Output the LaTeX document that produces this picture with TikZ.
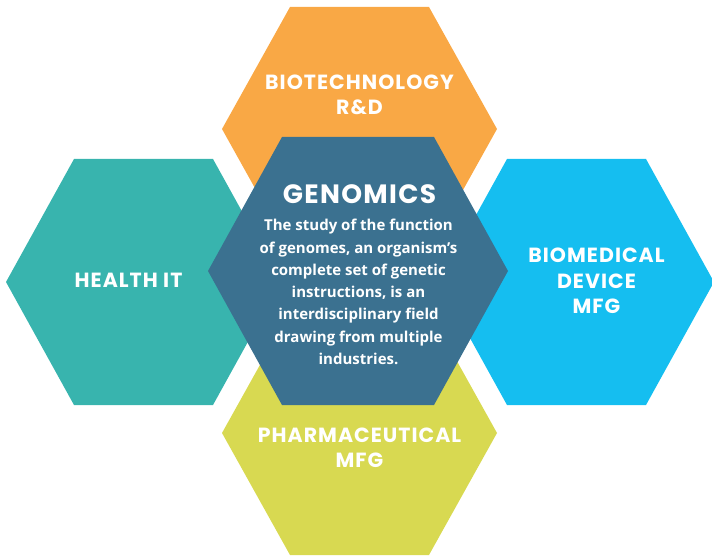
\documentclass[tikz,border=0pt]{standalone}
\usepackage{fontspec}
\usetikzlibrary{positioning}
\setmainfont{Open Sans}
\newfontfamily\headfont[LetterSpace=5]{Poppins}
\definecolor{hexorange}{HTML}{F9A845}
\definecolor{hexteal}{HTML}{38B4AE}
\definecolor{hexblue}{HTML}{15BEF0}
\definecolor{hexyellow}{HTML}{D8D951}
\definecolor{hexdark}{HTML}{3B7190}

\begin{document}
\begin{tikzpicture}[x=1pt,y=-1pt,
		title/.style={text=white, font=\headfont\bfseries\fontsize{20.5}{25.5}\selectfont, align=center, inner sep=0pt},
		body/.style={text=white, font=\bfseries\fontsize{15}{22.3}\selectfont, align=center, inner sep=0pt}]
			\useasboundingbox (0,0) rectangle (712,556);
			\coordinate[](top) at (359.5,129) ;
			\coordinate[](left) at (143.5,282) ;
			\coordinate[](right) at (576.5,282) ;
			\coordinate[](bottom) at (359.5,433) ;
			\coordinate[](middle) at (358,271) ;
			
			% outer hexagons
			\fill[hexorange](top) ++(-137.5,0) -- ++(68,-122) -- ++(139,0) -- ++(68,122) -- ++(-68,122) -- ++(-139,0) -- cycle;
			\fill[hexyellow](bottom) ++(-137.5,0) -- ++(68,-122) -- ++(139,0) -- ++(68,122) -- ++(-68,122) -- ++(-139,0) -- cycle;
			\fill[hexteal](left) ++(-137.5,0) -- ++(68,-123) -- ++(139,0) -- ++(68,123) -- ++(-68,123) -- ++(-139,0) -- cycle;
			\fill[hexblue](right) ++(-137.5,0) -- ++(68,-123) -- ++(139,0) -- ++(68,123) -- ++(-68,123) -- ++(-139,0) -- cycle;
			
			% center hexagon
			\fill[hexdark](middle) ++(-150,0) -- ++(74,-134) -- ++(152,0) -- ++(74,134) -- ++(-74,134) -- ++(-152,0) -- cycle;
			
			\node[title](biotech) at (359.5,95) {BIOTECHNOLOGY\\R\&D};
			\node[title](healthit) at (128.5,280) {HEALTH IT};
			\node[title](biomed) at (596.5,281) {BIOMEDICAL\\DEVICE\\MFG};
			\node[title](pharma) at (359.5,448) {PHARMACEUTICAL\\MFG};
			\node[title, font=\headfont\bfseries\fontsize{26.5}{28}\selectfont](genomics) at (359.5,194) {GENOMICS};
			\node[body](about) at (358.5,292) {The study of the function\\of genomes, an organism’s\\complete set of genetic\\instructions, is an\\interdisciplinary field\\drawing from multiple\\industries.};
			\end{tikzpicture}
\end{document}
